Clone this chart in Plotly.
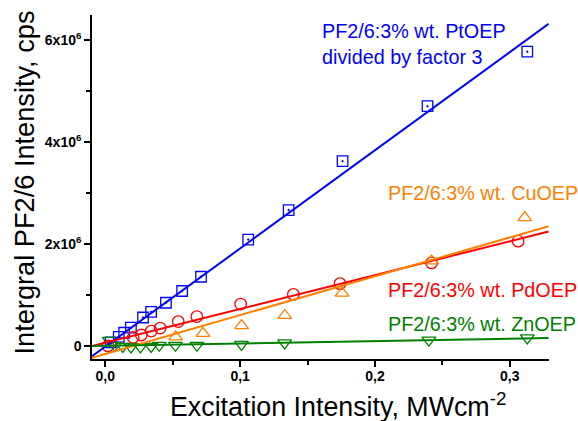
import plotly.graph_objects as go

# ---------------- data (y in cps) ----------------
PT_X = [0.004, 0.010, 0.014, 0.019, 0.028, 0.034, 0.045, 0.057, 0.071, 0.106, 0.136, 0.176, 0.239, 0.313]
PT_Y_M = [0.07, 0.18, 0.26, 0.36, 0.56, 0.67, 0.85, 1.08, 1.36, 2.09, 2.67, 3.63, 4.71, 5.78]

PD_X = [0.002, 0.0207, 0.0267, 0.0341, 0.0407, 0.0541, 0.0679, 0.1004, 0.1395, 0.1741, 0.2420, 0.3062]
PD_Y_M = [0.00, 0.167, 0.216, 0.294, 0.353, 0.480, 0.578, 0.824, 1.014, 1.225, 1.633, 2.059]

CU_X = [0.0522, 0.0724, 0.1011, 0.1331, 0.1756, 0.2420, 0.3111]
CU_Y_M = [0.18, 0.25, 0.40, 0.60, 1.04, 1.67, 2.52]

ZN_X = [0.003, 0.007, 0.013, 0.019, 0.026, 0.034, 0.040, 0.052, 0.068, 0.101, 0.133, 0.240, 0.313]
ZN_Y_M = [0.112, 0.014, -0.006, -0.018, -0.018, -0.006, 0.014, 0.014, 0.014, 0.033, 0.061, 0.116, 0.159]

# linear fits: [slope (millions cps per MWcm-2), intercept (millions cps)]
PT_FIT = [19.27, -0.011]
PD_FIT = [6.64, 0.064]
CU_FIT = [7.63, -0.157]
ZN_FIT = [0.46, 0.004]

LABELS = ["PF2/6:3% wt. PtOEP<br>divided by factor 3",
          "PF2/6:3% wt. CuOEP",
          "PF2/6:3% wt. PdOEP",
          "PF2/6:3% wt. ZnOEP"]

X_TICKS = [0.0, 0.1, 0.2, 0.3]
X_TICKTEXT = ["0,0", "0,1", "0,2", "0,3"]
Y_TICKS = [0, 2e6, 4e6, 6e6]
Y_TICKTEXT = ["0", "2x10<sup>6</sup>", "4x10<sup>6</sup>", "6x10<sup>6</sup>"]

X_TITLE = "Excitation Intensity, MWcm<sup>-2</sup>"
Y_TITLE = "Intergral PF2/6 Intensity, cps"

X_RANGE = [-0.00986, 0.3291]
Y_RANGE = [-0.255e6, 6.50e6]

# ---------------- styling ----------------
BLUE = "#0000ff"
RED = "#ff0000"
ORANGE = "#ff8000"
GREEN = "#008000"
FONT = "Liberation Sans, Arial, sans-serif"

W, H = 578, 421
L, R, T, B = 92, 549, 15, 359


def px(xp):
    return (xp - L) / (R - L)


def py(yp):
    return (B - yp) / (B - T)


def mil(vals):
    return [v * 1e6 for v in vals]


def fit_line(fit):
    xs = [X_RANGE[0], X_RANGE[1] - 0.0003]
    return xs, [(fit[0] * x + fit[1]) * 1e6 for x in xs]


fig = go.Figure()

series = [
    (PT_X, PT_Y_M, PT_FIT, BLUE, "square-open-dot", 10.5),
    (PD_X, PD_Y_M, PD_FIT, RED, "circle-open", 11.5),
    (CU_X, CU_Y_M, CU_FIT, ORANGE, "triangle-up-open", 12),
    (ZN_X, ZN_Y_M, ZN_FIT, GREEN, "triangle-down-open", 12),
]

for xs, ys, fit, col, sym, size in series:
    fig.add_trace(go.Scatter(
        x=xs, y=mil(ys), mode="markers",
        marker=dict(symbol=sym, size=size, color=col, line=dict(color=col, width=1.3)),
        showlegend=False, cliponaxis=False))

for xs, ys, fit, col, sym, size in series:
    lx, ly = fit_line(fit)
    fig.add_trace(go.Scatter(x=lx, y=ly, mode="lines",
                             line=dict(color=col, width=2), showlegend=False))

annots = [
    dict(text=LABELS[0], x=px(319.5), y=py(18.0), color=BLUE),
    dict(text=LABELS[1], x=px(386.0), y=py(180.0), color=ORANGE),
    dict(text=LABELS[2], x=px(386.0), y=py(276.7), color=RED),
    dict(text=LABELS[3], x=px(386.0), y=py(311.0), color=GREEN),
]
annotations = []
for a in annots:
    annotations.append(dict(
        text=a["text"], x=a["x"], y=a["y"], xref="paper", yref="paper",
        xanchor="left", yanchor="top", align="left", showarrow=False,
        font=dict(family=FONT, size=19.8, color=a["color"])))

annotations.append(dict(
    text=Y_TITLE, x=px(23.5), y=py(183), xref="paper", yref="paper",
    xanchor="center", yanchor="middle", textangle=-90, showarrow=False,
    font=dict(family=FONT, size=27.2, color="black")))
annotations.append(dict(
    text=X_TITLE, x=px(338), y=py(405.5), xref="paper", yref="paper",
    xanchor="center", yanchor="middle", showarrow=False,
    font=dict(family=FONT, size=26.8, color="black")))

axis_common = dict(
    showgrid=False, zeroline=False, showline=True, linecolor="black", linewidth=1.5,
    ticks="outside", ticklen=6, tickwidth=1.5, tickcolor="black",
    tickfont=dict(family=FONT, size=14, color="black", weight="bold"),
    mirror=False,
)

fig.update_layout(
    width=W, height=H,
    margin=dict(l=L, r=W - R, t=T, b=H - B, pad=0),
    paper_bgcolor="white", plot_bgcolor="white",
    xaxis=dict(range=X_RANGE, tickvals=X_TICKS, ticktext=X_TICKTEXT, ticklabelstandoff=-3,
               minor=dict(ticks="outside", ticklen=4, tickwidth=1.5, tickcolor="black", dtick=0.05, tick0=0),
               **axis_common),
    yaxis=dict(range=Y_RANGE, tickvals=Y_TICKS, ticktext=Y_TICKTEXT,
               minor=dict(ticks="outside", ticklen=4, tickwidth=1.5, tickcolor="black", dtick=1e6, tick0=0),
               **axis_common),
    annotations=annotations,
)

fig.write_html("out.html")
